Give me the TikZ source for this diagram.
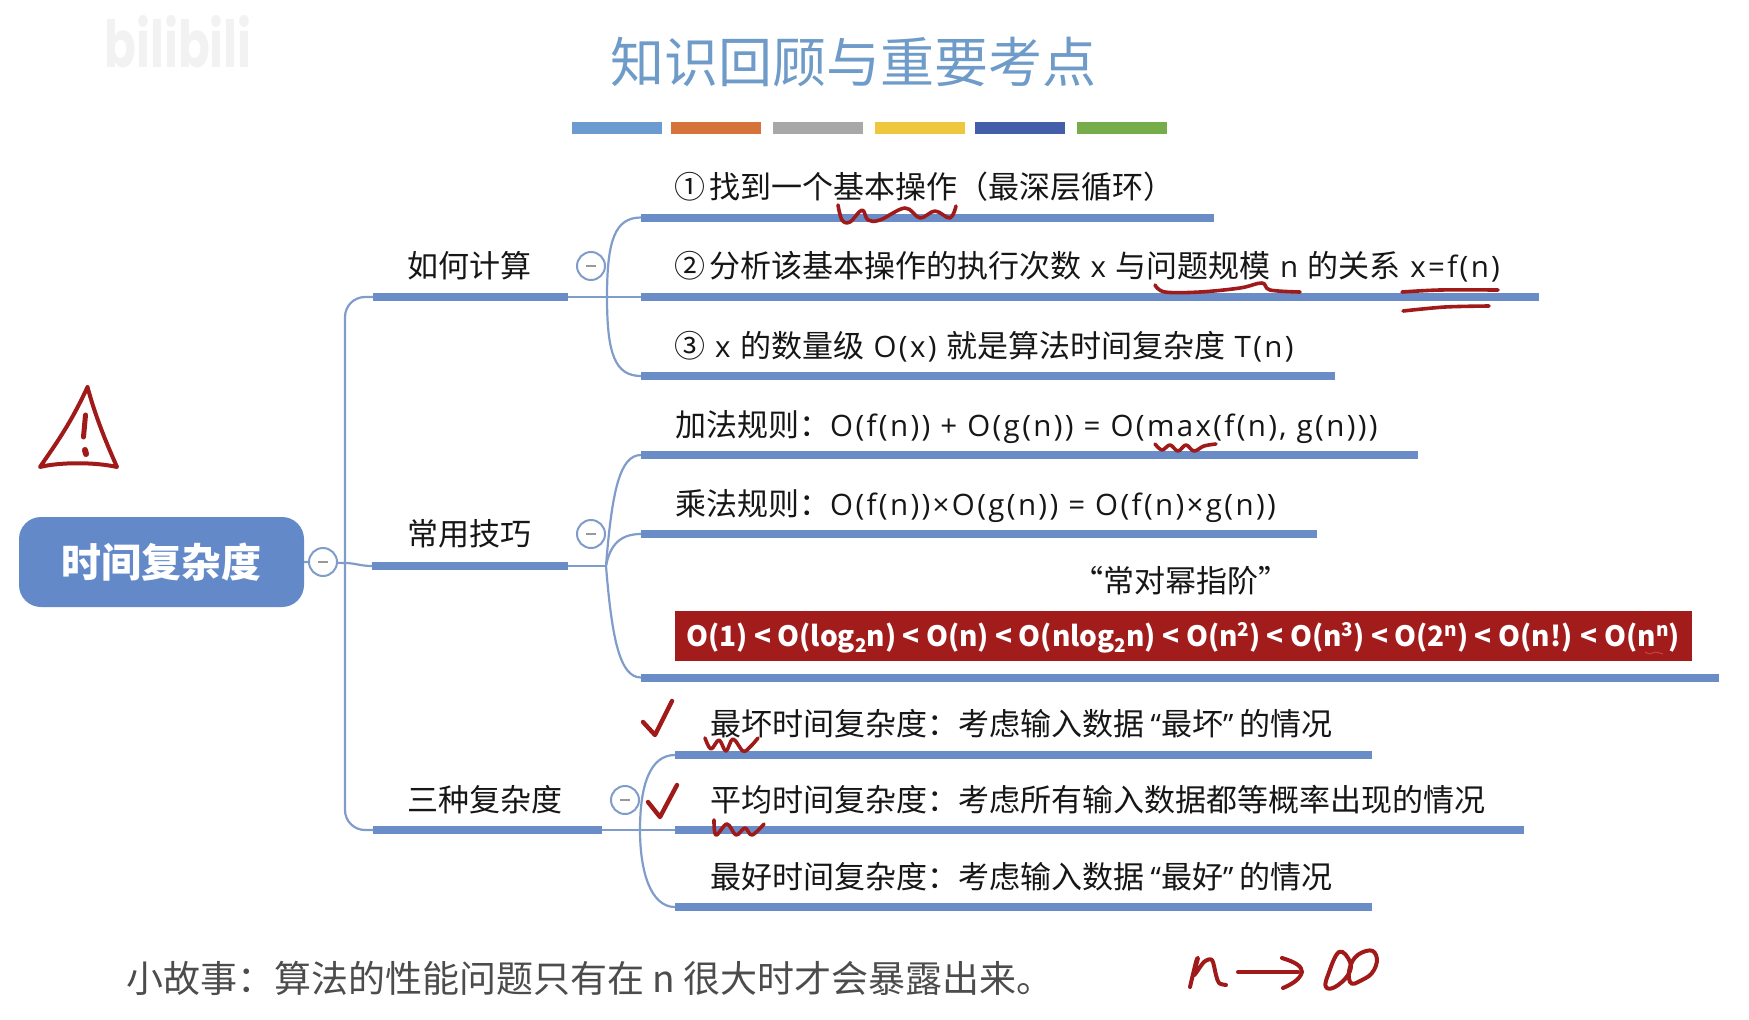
\documentclass[tikz,border=0pt]{standalone}
\usepackage{fontspec}
\setmainfont{Noto Sans CJK SC}
\newfontfamily\wmfont{Poppins}
\newfontfamily\latfont{Open Sans}[LetterSpace=8]
\usetikzlibrary{calc}
\definecolor{barblue}{HTML}{6A8CC7}
\definecolor{linkblue}{HTML}{7F9CCB}
\definecolor{rootblue}{HTML}{6389C9}
\definecolor{ink}{HTML}{A01A1A}
\definecolor{boxred}{HTML}{A21C1C}
\definecolor{txt}{HTML}{161616}
\definecolor{titleblue}{HTML}{6F9BC8}
\definecolor{inkpale}{HTML}{CE4040}
\definecolor{s1}{HTML}{6C9BD0}\definecolor{s2}{HTML}{D4743A}\definecolor{s3}{HTML}{A8A8A8}
\definecolor{s4}{HTML}{EFC73F}\definecolor{s5}{HTML}{445FA8}\definecolor{s6}{HTML}{76AC4A}
\newcommand{\fs}[1]{\fontsize{#1}{#1}\selectfont}
\newcommand{\lat}[1]{{\latfont\fs{29.5}#1}}
\newcommand{\wsp}{\hspace{9.5pt}}
\newcommand{\qsp}{\hspace{6.5pt}}
\newcommand{\lowtext}[1]{\raisebox{-6pt}{\fs{19}#1}}
\newcommand{\hightext}[1]{\raisebox{10pt}{\fs{19}#1}}
\tikzset{
  x=1pt,y=-1pt,
  barbox/.style={fill=barblue,inner sep=0pt,outer sep=0pt,minimum height=8pt,text height=0pt,text depth=0pt},
  swatch/.style={inner sep=0pt,outer sep=0pt,minimum height=12pt,minimum width=90pt},
  link/.style={draw=linkblue,line width=2.2pt},
  minusbtn/.style={circle,draw=linkblue,line width=2pt,fill=white,minimum size=28pt,inner sep=0pt,
    path picture={\draw[black!40,line width=2pt] ($(path picture bounding box.center)+(-5,0)$) -- ($(path picture bounding box.center)+(5,0)$);}},
  label/.style={anchor=west,inner sep=0pt,text=txt,font=\fs{31}},
  hand/.style={draw=ink,line width=3.6pt,line cap=round,line join=round},
}
\begin{document}
\begin{tikzpicture}
\useasboundingbox (0,0) rectangle (1749,1020);
% watermark
\node[inner sep=0pt,text=black!5,font=\wmfont\bfseries\fs{52},xscale=0.9,yscale=1.25] (wm) at (178,42) {bilibili};
% title
\node[inner sep=0pt,text=titleblue,font=\fs{54}] (title) at (853,62) {知识回顾与重要考点};
% swatches
\node[swatch,fill=s1] (c1) at (617,128) {};
\node[swatch,fill=s2] (c2) at (716,128) {};
\node[swatch,fill=s3] (c3) at (818,128) {};
\node[swatch,fill=s4] (c4) at (920,128) {};
\node[swatch,fill=s5] (c5) at (1020,128) {};
\node[swatch,fill=s6] (c6) at (1122,128) {};
% root
\node[fill=rootblue,rounded corners=22pt,minimum width=285pt,minimum height=90pt,inner sep=0pt,text=white,font=\bfseries\fs{40}] (root) at (161.5,562) {时间复杂度};
% mid bars
\node[barbox,minimum width=195pt] (m1) at (470.5,297) {};
\node[barbox,minimum width=196pt] (m2) at (470,566) {};
\node[barbox,minimum width=229pt] (m3) at (487.5,830) {};
% leaf bars
\node[barbox,minimum width=573pt] (b1) at (927.5,217.5) {};
\node[barbox,minimum width=898pt] (b2) at (1090,297) {};
\node[barbox,minimum width=694pt] (b3) at (988,376) {};
\node[barbox,minimum width=777pt] (b4) at (1029.5,455) {};
\node[barbox,minimum width=676pt] (b5) at (979,534) {};
\node[barbox,minimum width=1078pt] (b6) at (1180,677.5) {};
\node[barbox,minimum width=697pt] (b7) at (1023.5,755) {};
\node[barbox,minimum width=849pt] (b8) at (1099.5,830) {};
\node[barbox,minimum width=697pt] (b9) at (1023.5,907) {};
% coordinates
\coordinate (tr) at (345,563);
\coordinate (s1) at (607,297);
\coordinate (s2) at (606,566);
\coordinate (s3) at (640,830);
% links
\draw[link,rounded corners=20pt] (m1.west) -| (tr) |- (m3.west);
\draw[link] (root.east) -- (tr);
\draw[link] (tr) .. controls (355,563) and (360,566) .. (m2.west);
\draw[link] (m1.east) -- (b2.west);
\draw[link] (s1) .. controls (607,240) and (615,217.5) .. (b1.west);
\draw[link] (s1) .. controls (607,354) and (615,376) .. (b3.west);
\draw[link] (m2.east) -- (s2);
\draw[link] (s2) .. controls (612,490) and (620,455) .. (b4.west);
\draw[link] (s2) .. controls (610,545) and (620,534) .. (b5.west);
\draw[link] (s2) .. controls (612,640) and (620,677.5) .. (b6.west);
\draw[link] (m3.east) -- (b8.west);
\draw[link] (s3) .. controls (640,785) and (650,755) .. (b7.west);
\draw[link] (s3) .. controls (640,870) and (650,907) .. (b9.west);
% buttons
\node[minusbtn] (k0) at (323,562) {};
\node[minusbtn] (k1) at (591,266) {};
\node[minusbtn] (k2) at (591,534) {};
\node[minusbtn] (k3) at (625,800) {};
% mid labels
\node[label] (l1) at (407,266) {如何计算};
\node[label] (l2) at (407,534) {常用技巧};
\node[label] (l3) at (407,800) {三种复杂度};
% leaf labels
\node[label] (t1) at (674,187) {①\hspace{4pt}找到一个基本操作（最深层循环）};
\node[label] (t2) at (674,267) {②\hspace{4pt}分析该基本操作的执行次数\wsp{}\lat{x}\wsp{}与问题规模\wsp{}\lat{n}\wsp{}的关系\wsp{}\lat{x=f(n)}};
\node[label] (t3) at (674,347) {③\hspace{10pt}\lat{x}\wsp{}的数量级\wsp{}\lat{O(x)}\wsp{}就是算法时间复杂度\wsp{}\lat{T(n)}};
\node[label] (t4) at (675,427) {加法规则：\lat{O(f(n)) + O(g(n)) = O(max(f(n), g(n)))}};
\node[label] (t5) at (675,506) {乘法规则：\lat{O(f(n))×O(g(n)) = O(f(n)×g(n))}};
\node[inner sep=0pt,text=txt,font=\fs{31}] (t6) at (1181,581) {“常对幂指阶”};
\node[fill=boxred,minimum width=1017pt,minimum height=50pt,inner sep=0pt,text=white,font=\bfseries\fs{28},text height=22pt,text depth=2pt] (box) at (1183,636)
  {O(1) < O(log\lowtext{2}n) < O(n) < O(nlog\lowtext{2}n) < O(n\hightext{2}) < O(n\hightext{3}) < O(2\hightext{n}) < O(n!) < O(n\hightext{n})};
\node[label] (t7) at (710,724) {最坏时间复杂度：考虑输入数据\qsp{}\lat{“}最坏\lat{”}\qsp{}的情况};
\node[label] (t8) at (710,800) {平均时间复杂度：考虑所有输入数据都等概率出现的情况};
\node[label] (t9) at (710,877) {最好时间复杂度：考虑输入数据\qsp{}\lat{“}最好\lat{”}\qsp{}的情况};
\node[label,text=black!70,font=\fs{37}] (story) at (126,978) {小故事：算法的性能问题只有在 n 很大时才会暴露出来。};
% handwriting
\draw[hand,line width=4pt] (87.5,387) .. controls (70,425) and (55,445) .. (40,467) .. controls (60,462) and (95,462) .. (117,467) .. controls (105,440) and (95,415) .. (87.5,387);
\draw[hand,line width=5pt] (85.5,415) -- (83.5,437);
\draw[hand,line width=6pt] (85,450) -- (86,454);
\draw[hand,line width=4.4pt] (643,722) -- (655,735) -- (672,701);
\draw[hand,line width=4.4pt] (648,802) -- (660,817) -- (677,785);
\draw[hand] plot[smooth,tension=0.6] coordinates {(838,205) (842,220) (850,222) (862,210) (868,220) (880,220) (905,208) (920,218) (935,211) (950,218) (956,206)};
\draw[hand] plot[smooth,tension=0.6] coordinates {(1155,285) (1165,292) (1200,292) (1240,288) (1262,283) (1270,290) (1300,292)};
\draw[hand] plot[smooth] coordinates {(1402,292) (1440,290) (1498,290)};
\draw[hand] plot[smooth] coordinates {(1403,311) (1445,307) (1489,306)};
\draw[hand] plot[smooth,tension=0.6] coordinates {(1155,444) (1162,450) (1170,445) (1178,451) (1186,445) (1194,451) (1204,446) (1216,444)};
\draw[hand] plot[smooth,tension=0.6] coordinates {(705,738) (711,749) (719,740) (726,751) (733,739) (743,751) (750,747) (758,738)};
\draw[hand] plot[smooth,tension=0.6] coordinates {(714,820) (716,835) (727,824) (736,835) (745,828) (752,835) (764,824)};
\draw[draw=inkpale,line width=1pt] plot[smooth] coordinates {(1645,652) (1650,654) (1655,652) (1663,654)};
% n -> infinity
\draw[hand,line width=4pt] plot[smooth,tension=0.5] coordinates {(1190,987) (1196,962) (1198,958) (1194,975) (1204,962) (1212,960) (1216,975) (1219,983) (1226,985)};
\draw[hand,line width=4pt] (1238,972) -- (1298,972);
\draw[hand,line width=4pt] (1282,958) .. controls (1295,962) and (1302,966) .. (1302,972) .. controls (1300,980) and (1290,985) .. (1283,988);
\draw[hand,line width=4pt] plot[smooth cycle,tension=0.7] coordinates {(1350,962) (1339,952) (1328,975) (1326,987) (1335,987) (1348,975)};
\draw[hand,line width=4pt] plot[smooth cycle,tension=0.8] coordinates {(1352,962) (1366,951) (1376,955) (1374,970) (1362,980) (1350,982)};
\end{tikzpicture}
\end{document}
